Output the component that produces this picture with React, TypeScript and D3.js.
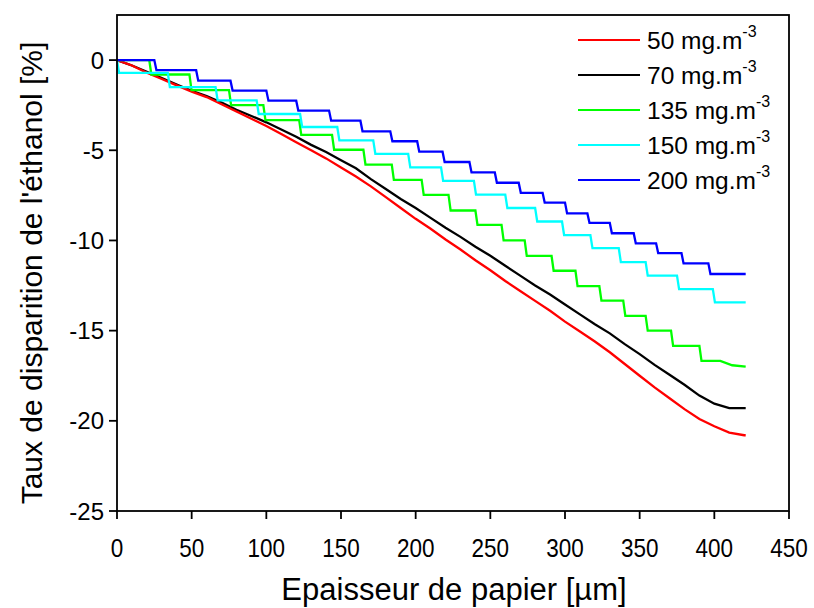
import React from "react";
import * as d3 from "d3";

// ---- data ----
const thickness = [0, 10, 20, 30, 40, 50, 60, 70, 80, 90, 100, 110, 120, 130, 140, 150, 160, 170, 180, 190, 200, 210, 220, 230, 240, 250, 260, 270, 280, 290, 300, 310, 320, 330, 340, 350, 360, 370, 380, 390, 400, 410, 420];
const rate50 = [0, -0.3, -0.7, -1.05, -1.4, -1.75, -2.05, -2.45, -2.85, -3.25, -3.65, -4.1, -4.55, -5.0, -5.45, -5.95, -6.45, -7.0, -7.6, -8.2, -8.8, -9.35, -9.95, -10.5, -11.1, -11.65, -12.25, -12.8, -13.35, -13.9, -14.5, -15.05, -15.6, -16.2, -16.85, -17.5, -18.15, -18.75, -19.35, -19.9, -20.3, -20.65, -20.8];
const rate70 = [0, -0.3, -0.65, -1.0, -1.35, -1.7, -2.0, -2.35, -2.75, -3.1, -3.45, -3.85, -4.25, -4.7, -5.1, -5.55, -6.0, -6.6, -7.15, -7.7, -8.2, -8.75, -9.3, -9.8, -10.35, -10.85, -11.4, -11.95, -12.5, -13.0, -13.55, -14.1, -14.65, -15.15, -15.75, -16.3, -16.9, -17.45, -18.0, -18.6, -19.05, -19.3, -19.3];

const drops135 = [21.6, 48.5, 75, 98, 122, 144, 165, 184, 204, 222, 240, 257.5, 273, 291, 307, 323, 339, 354, 371, 390];
const levels135 = [-0.8, -1.67, -2.5, -3.33, -4.15, -4.97, -5.8, -6.64, -7.47, -8.34, -9.14, -10.0, -10.86, -11.68, -12.53, -13.34, -14.18, -15.0, -15.84, -16.68];
const tail135x = [404, 412, 421];
const tail135y = [-16.68, -16.92, -17.0];

const drops150 = [0, 34, 66, 93.5, 122.6, 147.5, 171.6, 195, 217, 239, 260, 280, 298, 317, 336, 354, 375, 399];
const levels150 = [-0.71, -1.5, -2.23, -2.99, -3.71, -4.45, -5.2, -5.95, -6.7, -7.46, -8.2, -8.95, -9.7, -10.43, -11.2, -11.95, -12.7, -13.43];

const drops200 = [25, 53, 76, 100, 120, 142, 163, 183, 201, 218, 236, 253, 269, 285, 300, 315, 330, 346, 361, 378, 396];
const levels200 = [-0.56, -1.14, -1.69, -2.25, -2.8, -3.36, -3.95, -4.5, -5.08, -5.65, -6.23, -6.8, -7.36, -7.9, -8.5, -9.03, -9.6, -10.16, -10.7, -11.27, -11.86];

const END_X = 421;

const seriesNames = ["50 mg.m", "70 mg.m", "135 mg.m", "150 mg.m", "200 mg.m"];
const seriesColors = ["#ff0000", "#000000", "#00ff00", "#00ffff", "#0000ff"];

const xTicks = [0, 50, 100, 150, 200, 250, 300, 350, 400, 450];
const yTicks = [0, -5, -10, -15, -20, -25];

const xTitle = "Epaisseur de papier [µm]";
const yTitle = "Taux de disparition de l'éthanol [%]";

// ---- layout ----
const W = 814;
const H = 608;
const M = { left: 117, top: 15, right: 789, bottom: 511 };
const FONT = "'Liberation Sans', Arial, Helvetica, sans-serif";
const SLANT = 1.4;

type Pt = [number, number];

function stepPoints(drops: number[], levels: number[], start: number, endX: number): Pt[] {
  const pts: Pt[] = [[0, start]];
  let prev = start;
  drops.forEach((d, i) => {
    pts.push([d, prev]);
    pts.push([d + SLANT, levels[i]]);
    prev = levels[i];
  });
  pts.push([endX, prev]);
  return pts;
}

export default function App() {
  const x = d3.scaleLinear().domain([0, 450]).range([M.left, M.right]);
  const y = d3.scaleLinear().domain([-25, 2.5]).range([M.bottom, M.top]);
  const line = d3
    .line<Pt>()
    .x((d) => x(d[0]))
    .y((d) => y(d[1]))
    .curve(d3.curveLinear);

  const s50: Pt[] = thickness.map((t, i) => [t, rate50[i]]);
  s50.push([END_X, rate50[rate50.length - 1]]);
  const s70: Pt[] = thickness.map((t, i) => [t, rate70[i]]);
  s70.push([END_X, rate70[rate70.length - 1]]);
  const s135base = stepPoints(drops135, levels135, 0, tail135x[0]);
  s135base.pop();
  const s135: Pt[] = [...s135base, ...tail135x.map((t, i) => [t, tail135y[i]] as Pt)];
  const s150 = stepPoints(drops150, levels150, 0, END_X);
  const s200 = stepPoints(drops200, levels200, 0, END_X);

  const allSeries = [s50, s70, s135, s150, s200];
  const drawOrder = [1, 0, 2, 3, 4];

  const legendX0 = 578;
  const legendX1 = 640;
  const legendY0 = 40;
  const legendDy = 35;

  return (
    <svg
      width={W}
      height={H}
      style={{ position: "absolute", left: 0, top: 0, background: "#fff" }}
      fontFamily={FONT}
    >
      <rect x={0} y={0} width={W} height={H} fill="#fff" />
      {/* series */}
      <g fill="none" strokeWidth={2.3} strokeLinejoin="miter">
        {drawOrder.map((k) => (
          <path key={k} d={line(allSeries[k]) || ""} stroke={seriesColors[k]} />
        ))}
      </g>
      {/* frame */}
      <rect
        x={M.left}
        y={M.top}
        width={M.right - M.left}
        height={M.bottom - M.top}
        fill="none"
        stroke="#000"
        strokeWidth={1.8}
      />
      {/* x axis ticks */}
      <g>
        {xTicks.map((t) => (
          <g key={t}>
            <line x1={x(t)} x2={x(t)} y1={M.bottom} y2={M.bottom + 8} stroke="#000" strokeWidth={1.8} />
            <text
              transform={`translate(${x(t)}, ${M.bottom + 46}) scale(0.9, 1)`}
              textAnchor="middle"
              fontSize={25}
              fill="#000"
            >
              {t}
            </text>
          </g>
        ))}
      </g>
      {/* y axis ticks */}
      <g>
        {yTicks.map((t) => (
          <g key={t}>
            <line x1={M.left - 8} x2={M.left} y1={y(t)} y2={y(t)} stroke="#000" strokeWidth={1.8} />
            <text x={M.left - 13} y={y(t) + 8.5} textAnchor="end" fontSize={24} fill="#000">
              {t}
            </text>
          </g>
        ))}
      </g>
      {/* titles */}
      <text x={454} y={600} textAnchor="middle" fontSize={31} fill="#000">
        {xTitle}
      </text>
      <text
        transform={`translate(42, ${(M.top + M.bottom) / 2 + 10}) rotate(-90)`}
        textAnchor="middle"
        fontSize={30}
        fill="#000"
      >
        {yTitle}
      </text>
      {/* legend */}
      <g>
        {seriesNames.map((n, i) => {
          const ly = legendY0 + i * legendDy;
          return (
            <g key={n}>
              <line x1={legendX0} x2={legendX1} y1={ly} y2={ly} stroke={seriesColors[i]} strokeWidth={2} />
              <text x={647} y={ly + 9} fontSize={24.5} fill="#000">
                {n}
                <tspan fontSize={16} dy={-12}>-3</tspan>
              </text>
            </g>
          );
        })}
      </g>
    </svg>
  );
}
